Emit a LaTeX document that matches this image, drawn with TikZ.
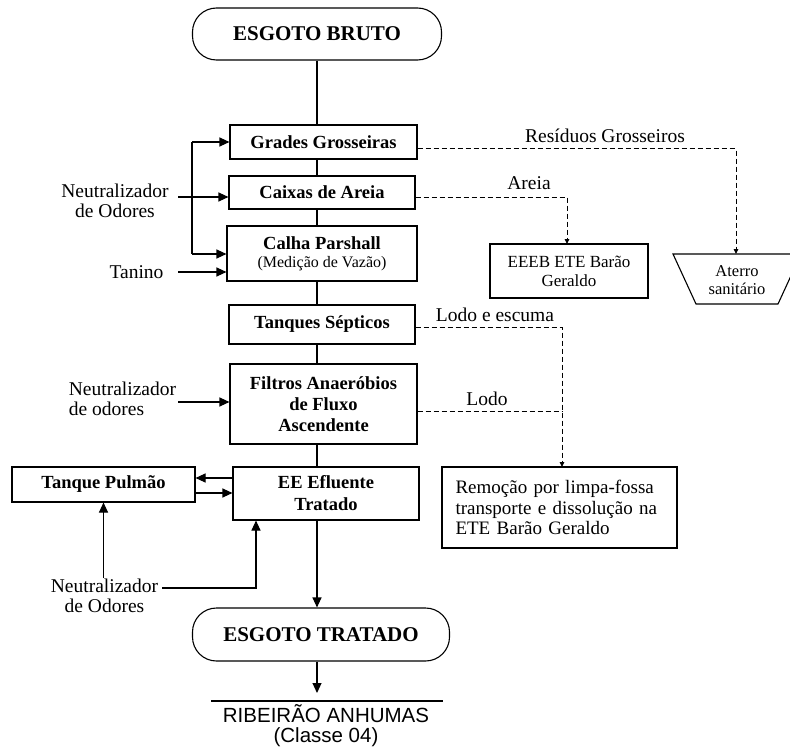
\documentclass[tikz,border=0pt]{standalone}
\usepackage{fontspec}
\setmainfont{Liberation Serif}
\newfontfamily\arialf{Liberation Sans}
\usetikzlibrary{arrows.meta,calc}
\tikzset{
  box/.style={draw,line width=1.1pt,inner sep=2pt,align=center,font=\fontsize{18.5}{21}\selectfont\bfseries},
  term/.style={draw,line width=1.1pt,rounded corners=24pt,inner sep=2pt,font=\fontsize{21}{24}\selectfont\bfseries},
  lbl/.style={font=\fontsize{19.5}{20}\selectfont,align=center,inner sep=0pt},
  flow/.style={line width=1.1pt,-{Triangle[length=10pt,width=9pt]}},
  plain/.style={line width=1.1pt},
  dline/.style={line width=1pt,dash pattern=on 5pt off 3pt},
  dflow/.style={dline,-{Triangle[length=5pt,width=4.5pt]}},
}
\begin{document}
\begin{tikzpicture}[x=1pt,y=-1pt]
\useasboundingbox (0,0) rectangle (790,749);
% main column
\node[term,minimum width=249pt,minimum height=52pt] (bruto) at (317,34) {ESGOTO BRUTO};
\node[box,minimum width=187pt,minimum height=34pt] (grades) at (323.5,142) {Grades Grosseiras};
\node[box,minimum width=186pt,minimum height=33pt] (caixas) at (322,192.5) {Caixas de Areia};
\node[box,minimum width=190pt,minimum height=55pt] (calha) at (322,253.5) {Calha Parshall\\[-3pt]{\fontsize{16}{18}\selectfont\mdseries (Medição de Vazão)}};
\node[box,minimum width=186pt,minimum height=39pt] (tanques) at (322,324.5) {Tanques Sépticos};
\node[box,minimum width=187pt,minimum height=80pt] (filtros) at (323.5,404) {Filtros Anaeróbios\\de Fluxo\\Ascendente};
\node[box,font=\fontsize{18.5}{22}\selectfont\bfseries,minimum width=186pt,minimum height=53pt] (ee) at (326,493.5) {EE Efluente\\Tratado};
\node[box,minimum width=183pt,minimum height=35pt] (pulmao) at (103.5,484.5) {Tanque Pulmão};
\node[term,minimum width=257pt,minimum height=53pt] (tratado) at (321,634.5) {ESGOTO TRATADO};
% right side
\node[box,font=\fontsize{17}{19}\selectfont,minimum width=158pt,minimum height=54pt] (eeeb) at (569,271) {EEEB ETE Barão\\Geraldo};
\node[box,font=\fontsize{19}{20.5}\selectfont,align=left,text width=208pt,minimum width=235pt,minimum height=81pt] (remocao) at (559.5,507.5) {Remoção por limpa-fossa\\transporte e dissolução na\\ETE Barão Geraldo};
\draw[plain] (673,254) -- (801,254) -- (778,304) -- (696,304) -- cycle;
\node[lbl,font=\fontsize{16.5}{17.5}\selectfont] (aterro) at (737,280) {Aterro\\sanitário};
\coordinate (aterrotop) at (736,254);
\coordinate (eeebtop) at (567,244);
\coordinate (remtop) at (562,467);
\coordinate (lodoj) at (562,411);
% receiving water
\coordinate (rl) at (211,701);
\coordinate (rr) at (443,701);
\draw[plain] (rl) -- (rr);
\node[font=\arialf\fontsize{20.5}{20}\selectfont,align=center,inner sep=0pt] (rib) at (326,726) {RIBEIRÃO ANHUMAS\\(Classe 04)};
\coordinate (ribtop) at (317,693);
% spine
\coordinate (spine) at (317,0);
\draw[plain] (bruto.south) -- (bruto.south |- grades.north);
\draw[plain] (grades.south -| spine) -- (caixas.north -| spine);
\draw[plain] (caixas.south -| spine) -- (calha.north -| spine);
\draw[plain] (calha.south -| spine) -- (tanques.north -| spine);
\draw[plain] (tanques.south -| spine) -- (filtros.north -| spine);
\draw[plain] (filtros.south -| spine) -- (ee.north -| spine);
\draw[flow] (ee.south -| spine) -- (tratado.north -| spine);
\draw[flow] (tratado.south -| spine) -- (ribtop);
% left inputs
\node[lbl] (n1) at (115,201) {Neutralizador\\de Odores};
\coordinate (n1e) at (178,197);
\coordinate (brt) at (192,142);
\coordinate (brb) at (192,254);
\draw[flow] (n1e) -- (n1e -| caixas.west);
\draw[plain] (brt) -- (brb);
\draw[flow] (brt) -- (brt -| grades.west);
\draw[flow] (brb) -- (brb -| calha.west);
\node[lbl] (tanino) at (136.5,272) {Tanino};
\coordinate (tan) at (178,272);
\draw[flow] (tan) -- (tan -| calha.west);
\node[lbl,align=left] (n2) at (122.5,399) {Neutralizador\\de odores};
\coordinate (n2e) at (178,402);
\draw[flow] (n2e) -- (n2e -| filtros.west);
% tanque pulmao loop
\coordinate (y478) at (0,478);
\coordinate (y493) at (0,493);
\draw[flow] (ee.west |- y478) -- (pulmao.east |- y478);
\draw[flow] (pulmao.east |- y493) -- (ee.west |- y493);
\node[lbl] (n3) at (104.5,596) {Neutralizador\\de Odores};
\coordinate (n3t) at (103.5,578);
\draw[flow] (n3t) -- (pulmao.south);
\coordinate (n3e) at (162,588);
\coordinate (eeb) at (256,0);
\draw[flow] (n3e) -| (ee.south -| eeb);
% dashed outputs
\coordinate (y149) at (0,149);
\coordinate (y197) at (0,197);
\coordinate (y327) at (0,327);
\coordinate (y411) at (0,411);
\draw[dflow] (grades.east |- y149) -| (aterrotop);
\draw[dflow] (caixas.east |- y197) -| (eeebtop);
\draw[dflow] (tanques.east |- y327) -| (remtop);
\draw[dline] (filtros.east |- y411) -- (lodoj);
\node[lbl] (lres) at (605,136) {Resíduos Grosseiros};
\node[lbl] (lareia) at (529,183) {Areia};
\node[lbl] (llodoe) at (495,315) {Lodo e escuma};
\node[lbl] (llodo) at (487,399) {Lodo};
\end{tikzpicture}
\end{document}
